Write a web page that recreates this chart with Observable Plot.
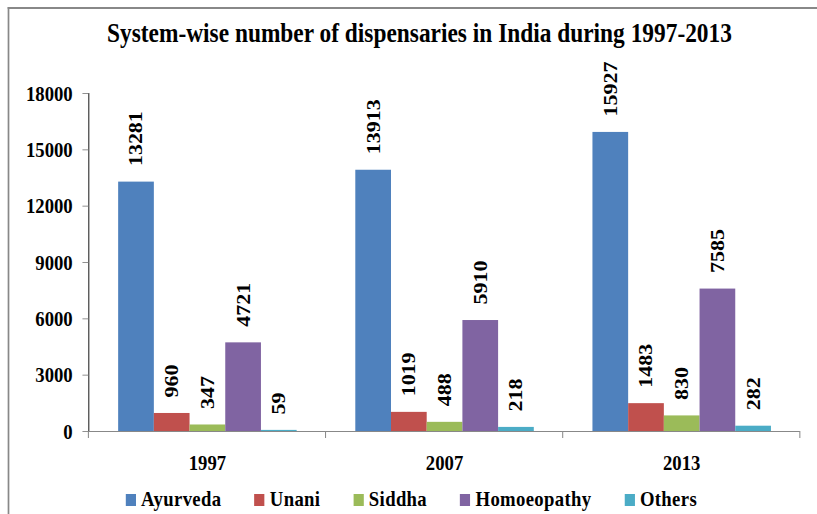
<!DOCTYPE html>
<html>
<head>
<meta charset="utf-8">
<script src="https://cdn.jsdelivr.net/npm/d3@7"></script>
<script src="https://cdn.jsdelivr.net/npm/@observablehq/plot@0.6"></script>
<style>
  html, body { margin: 0; padding: 0; overflow: hidden; background: #fff; width: 817px; height: 514px; }
  #chart { position: relative; width: 961px; height: 514px; transform: scaleX(0.85); transform-origin: 0 0;
           font-family: "Liberation Serif", "Times New Roman", serif; color: #000; }
  #border { position: absolute; left: 9.4px; top: 7px; width: 1000px; height: 600px;
            border-left: 2.4px solid #888; border-top: 2px solid #888; }
  #title { position: absolute; left: 0; width: 987px; top: 19px; text-align: center;
           font-size: 27.5px; line-height: 27.5px; font-weight: bold; }
  #plot { position: absolute; left: 0; top: 0; }
  #legend { position: absolute; left: 148px; top: 487.6px; display: flex; gap: 39px;
            font-size: 22px; line-height: 22px; font-weight: bold; letter-spacing: 0.4px; white-space: nowrap; }
  #legend .sw { display: inline-block; width: 12px; height: 12px; margin-right: 6px; vertical-align: baseline; }
  [aria-label^="y-axis"] line, [aria-label^="y-axis"] path { stroke: #888; }
</style>
</head>
<body>
<div id="chart">
  <div id="border"></div>
  <div id="title">System-wise number of dispensaries in India during 1997-2013</div>
  <div id="plot"></div>
  <div id="legend"></div>
</div>
<script>
const years = ["1997", "2007", "2013"];
const systems = ["Ayurveda", "Unani", "Siddha", "Homoeopathy", "Others"];
const colors = ["#4F81BD", "#C0504D", "#9BBB59", "#8064A2", "#4BACC6"];
const ayurveda = [13281, 13913, 15927];
const unani = [960, 1019, 1483];
const siddha = [347, 488, 830];
const homoeopathy = [4721, 5910, 7585];
const others = [59, 218, 282];
const yTicks = [0, 3000, 6000, 9000, 12000, 15000, 18000];

const seriesValues = [ayurveda, unani, siddha, homoeopathy, others];
const data = [];
years.forEach((yr, i) => {
  systems.forEach((s, j) => data.push({year: yr, system: s, value: seriesValues[j][i]}));
});

const font = '"Liberation Serif", "Times New Roman", serif';
const plot = Plot.plot({
  width: 961,
  height: 491,
  marginLeft: 104,
  marginRight: 20,
  marginTop: 93,
  marginBottom: 60,
  style: {fontFamily: font, fontSize: "22px", fontWeight: "bold", color: "#000", background: "transparent", overflow: "visible"},
  facet: {data, x: "year"},
  fx: {domain: years, padding: 0, axis: "bottom", label: null, tickSize: 0, tickPadding: 23},
  x: {domain: systems, paddingInner: 0, paddingOuter: 0.765, axis: null},
  y: {domain: [0, 18000], ticks: yTicks, tickFormat: "d", tickSize: 7, tickPadding: 12, line: true, label: null, grid: false},
  color: {domain: systems, range: colors},
  marks: [
    Plot.barY(data, {x: "system", y: "value", fill: "system"}),
    Plot.text(data, {x: "system", y: "value", text: d => String(d.value), rotate: -90, textAnchor: "start", dy: -16, fontSize: 22, fontWeight: "bold", fill: "#000"}),
    Plot.ruleY([0], {stroke: "#888", strokeWidth: 1.2})
  ]
});
document.getElementById("plot").appendChild(plot);

// group boundary ticks under the x axis, from the library's fx and y scales
const fxs = plot.scale("fx");
const ys = plot.scale("y");
const [r0, r1] = fxs.range;
const y0 = ys.apply(0);
const g = d3.select(plot).append("g").attr("stroke", "#888").attr("stroke-width", 1.2);
for (let i = 0; i <= years.length; i++) {
  const xx = r0 + (r1 - r0) * i / years.length;
  g.append("line").attr("x1", xx).attr("x2", xx).attr("y1", y0).attr("y2", y0 + 7);
}

// legend
const legend = d3.select("#legend");
systems.forEach((s, j) => {
  const item = legend.append("div");
  item.append("span").attr("class", "sw").style("background", colors[j]);
  item.append("span").text(s);
});
</script>
</body>
</html>
